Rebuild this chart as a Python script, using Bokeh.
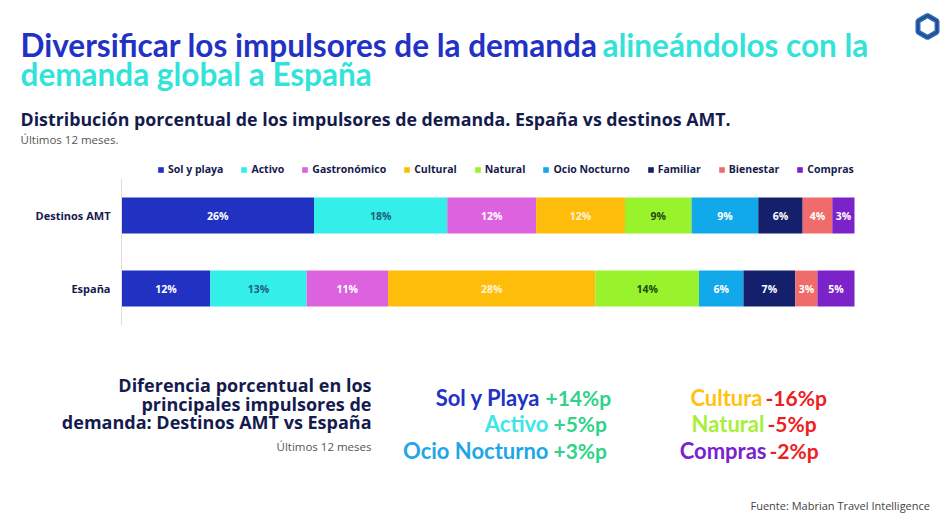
from bokeh.plotting import figure
from bokeh.models import Label, Legend, LegendItem, Range1d, ColumnDataSource
from bokeh.core.properties import value
from bokeh.embed import file_html
from bokeh.resources import INLINE
import numpy as np

# ---------------- data ----------------
categories = ["Sol y playa", "Activo", "Gastronómico", "Cultural", "Natural",
              "Ocio Nocturno", "Familiar", "Bienestar", "Compras"]
rows = ["Destinos AMT", "España"]
destinos_amt = [26, 18, 12, 12, 9, 9, 6, 4, 3]
espana = [12, 13, 11, 28, 14, 6, 7, 3, 5]

diff_left_names = ["Sol y Playa", "Activo", "Ocio Nocturno"]
diff_left_values = [14, 5, 3]
diff_right_names = ["Cultura", "Natural", "Compras"]
diff_right_values = [-16, -5, -2]

# ---------------- style ----------------
colors = ["#2131c2", "#34eeea", "#dc62e0", "#ffbd0b", "#98f22c",
          "#12a9ea", "#15206c", "#f06c6c", "#7b22c9"]
label_colors = ["#ffffff", "#23607c", "#ffffff", "#fff3d6", "#1d4a10",
                "#ffffff", "#ffffff", "#ffffff", "#ffffff"]
NAVY = "#151b4d"
GRAY = "#555555"
FONT = "Open Sans"
HEAVY = "Lato"

W, H = 950, 518
PLOT_L, PLOT_R = 121, 854        # pixel span of the 0..total bar scale
ROW_STEP = 73                    # pixels between row centres
BOTTOM_ROW_PX = 288              # pixel (from top) of the bottom row centre

total = sum(destinos_amt)
ppu = (PLOT_R - PLOT_L) / total
row_pos = list(range(len(rows)))[::-1]          # Destinos on top
y_start = -(H - BOTTOM_ROW_PX) / ROW_STEP
x_range = Range1d(-PLOT_L / ppu, (W - PLOT_L) / ppu)
y_range = Range1d(y_start, y_start + H / ROW_STEP)

p = figure(width=W, height=H, x_range=x_range, y_range=y_range,
           output_backend="svg", toolbar_location=None, min_border=0)
p.outline_line_color = None
p.grid.visible = False
p.axis.visible = False


def px_x(x):
    return x_range.start + x / ppu


def px_y(y):
    return y_range.start + (H - y) / ROW_STEP


data = {"row": row_pos}
for c, a, e in zip(categories, destinos_amt, espana):
    data[c] = [a, e]
source = ColumnDataSource(data)

renderers = p.hbar_stack(categories, y="row", height=0.49, color=colors,
                         line_color=None, source=source)

# axis line and row labels
p.segment(x0=0, x1=0, y0=min(row_pos) - 0.5, y1=max(row_pos) + 0.5,
          line_color="#dedede", line_width=1)
p.text(x=[0] * len(rows), y=row_pos, text=rows, x_offset=-11,
       text_align="right", text_baseline="middle", text_font_size="11px",
       text_font_style="bold", text_color=NAVY, text_font=value(FONT))

legend = Legend(items=[LegendItem(label=c, renderers=[r]) for c, r in zip(categories, renderers)],
                orientation="horizontal", location=(157, H - 176),
                glyph_width=7, glyph_height=7, label_standoff=4, spacing=17,
                label_height=14, padding=0, margin=0, border_line_color=None,
                background_fill_alpha=0, label_text_font=FONT,
                label_text_font_style="bold", label_text_font_size="10.5px",
                label_text_color=NAVY)
p.add_layout(legend, "center")

# segment labels
xs, ys, ts, tc = [], [], [], []
for row, vals in zip(row_pos, [destinos_amt, espana]):
    v = np.array(vals, dtype=float)
    mids = np.cumsum(v) - v / 2
    for m, val, col in zip(mids, vals, label_colors):
        xs.append(m); ys.append(row); ts.append(f"{val}%"); tc.append(col)
p.text(x="x", y="y", text="t", text_color="c",
       source=ColumnDataSource(dict(x=xs, y=ys, t=ts, c=tc)),
       text_align="center", text_baseline="middle", text_font_size="10.5px",
       text_font_style="bold", text_font=value(FONT))

# logo
p.scatter(x=[px_x(927)], y=[px_y(26)], marker="hex", size=22, angle=np.pi / 6,
          fill_color=None, line_color="#2d6ab8", line_width=5)
p.scatter(x=[px_x(927)], y=[px_y(26)], marker="hex", size=22, angle=np.pi / 6,
          fill_color=None, line_color="#1a2a6a", line_width=2, line_alpha=0.5)


def lab(text, x, y, size, color, bold=False, align="left", font=FONT):
    p.add_layout(Label(x=x, y=H - y, x_units="screen", y_units="screen",
                       text=text, text_font_size=f"{size}px", text_color=color,
                       text_font_style="bold" if bold else "normal",
                       text_align=align, text_baseline="middle", text_font=font))


# titles
lab("Diversificar los impulsores de la demanda", 20, 44, 31.5, "#2232c4", True, font=HEAVY)
lab("alineándolos con la", 602, 44, 31.5, "#33e3da", True, font=HEAVY)
lab("demanda global a España", 20, 73, 31.5, "#33e3da", True, font=HEAVY)
lab("Distribución porcentual de los impulsores de demanda. España vs destinos AMT.", 20, 118, 17.8, NAVY, True)
lab("Últimos 12 meses.", 20, 139, 11.5, GRAY)

# lower-left heading
for txt, yy in zip(["Diferencia porcentual en los", "principales impulsores de",
                    "demanda: Destinos AMT vs España"], [384, 403, 421]):
    lab(txt, 371, yy, 18, NAVY, True, align="right")
lab("Últimos 12 meses", 371, 446, 11.5, GRAY, align="right")

# differences
row_y = [397, 423, 450]
left_name_end = [540, 548, 548]
left_val_start = [545, 553, 553]
left_name_colors = ["#2232c4", "#3ee6e6", "#1ea6e6"]
right_name_end = [762, 764, 766]
right_val_start = [765, 767, 769]
right_name_colors = ["#ffc20e", "#a6f03c", "#7a22d0"]
for n, v, yy, xe, xv, col in zip(diff_left_names, diff_left_values, row_y,
                                  left_name_end, left_val_start, left_name_colors):
    lab(n, xe, yy, 22, col, True, align="right", font=HEAVY)
    lab(f"{v:+d}%p", xv, yy, 21, "#2fd38a", True, font=HEAVY)
for n, v, yy, xe, xv, col in zip(diff_right_names, diff_right_values, row_y,
                                  right_name_end, right_val_start, right_name_colors):
    lab(n, xe, yy, 22, col, True, align="right", font=HEAVY)
    lab(f"{v:+d}%p", xv, yy, 21, "#ee1d23", True, font=HEAVY)

lab("Fuente: Mabrian Travel Intelligence", 750, 505, 11, "#444444")

open("out.html", "w").write(file_html(p, INLINE))
